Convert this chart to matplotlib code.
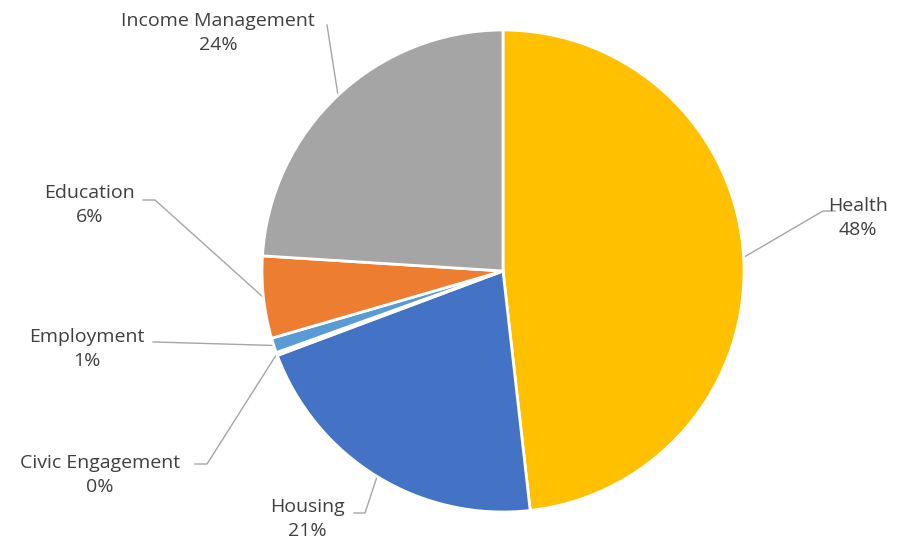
import numpy as np
import matplotlib.pyplot as plt

categories = ['Health', 'Housing', 'Civic Engagement', 'Employment', 'Education', 'Income Management']
shares = [48.2, 21.1, 0.2, 1.0, 5.5, 24.0]
pct_labels = ['48%', '21%', '0%', '1%', '6%', '24%']
colors = ['#FFC000', '#4472C4', '#5B9BD5', '#5B9BD5', '#ED7D31', '#A5A5A5']

W, H = 911, 548
cx, cy, r = 503, H - 271, 241

# label anchor (centre of text block) and elbow of the leader line, in pixels (y down)
label_pos = {
    'Health': (858, 218),
    'Housing': (307, 519),
    'Civic Engagement': (100, 475),
    'Employment': (87, 349),
    'Education': (90, 205),
    'Income Management': (218, 33),
}
elbow = {
    'Health': [(823, 211), (835, 211)],
    'Housing': [(365, 513), (354, 513)],
    'Civic Engagement': [(207, 464), (195, 464)],
    'Employment': [(155, 342), (153, 342)],
    'Education': [(155, 200), (143, 200)],
    'Income Management': [(327, 25)],
}

fig = plt.figure(figsize=(W / 100, H / 100), dpi=100)
ax = fig.add_axes([0, 0, 1, 1])

wedges, _ = ax.pie(shares, colors=colors, startangle=90, counterclock=False,
                   center=(cx, cy), radius=r,
                   wedgeprops=dict(edgecolor='white', linewidth=2))

txt_color = '#404040'
for w, name, pct in zip(wedges, categories, pct_labels):
    mid = np.radians((w.theta1 + w.theta2) / 2)
    x0 = cx + r * np.cos(mid)
    y0 = cy + r * np.sin(mid)
    pts = [(x0, y0)] + [(x, H - y) for x, y in elbow[name]]
    ax.plot([p[0] for p in pts], [p[1] for p in pts], color='#A6A6A6', lw=1, zorder=0)
    lx, ly = label_pos[name]
    ax.text(lx, H - ly, name + '\n' + pct, ha='center', va='center', fontsize=14,
            color=txt_color, family='Open Sans', linespacing=1.45)

ax.set_xlim(0, W)
ax.set_ylim(0, H)
ax.set_aspect('equal')
ax.axis('off')

fig.savefig('out.png', dpi=100)
